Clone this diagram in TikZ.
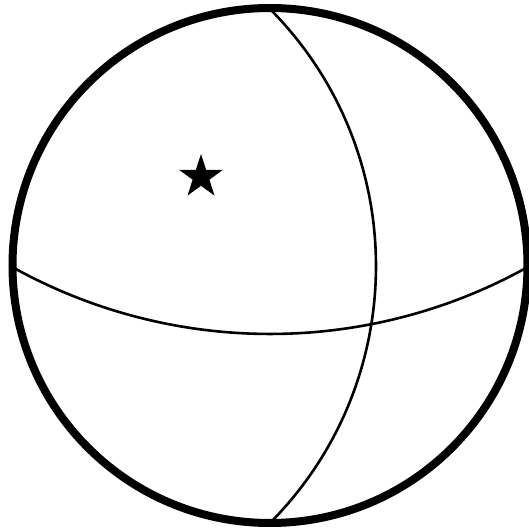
\documentclass[tikz,border=0pt]{standalone}
\begin{document}
\begin{tikzpicture}[x=0.5pt,y=0.5pt,
  rim/.style={line width=4pt},
  gc/.style={line width=1.3pt},
  starfill/.style={fill=black}]
\useasboundingbox (0,0) rectangle (529,532);
\coordinate (O) at (270,266.5);
\coordinate (S) at (201,355);
\coordinate (H) at (270,727.5);
\coordinate (V) at (11.4,266);
% horizontal great circle
\draw[gc] (H) ++(241.1:529.5) arc[start angle=241.1, end angle=298.8, radius=529.5];
% vertical great circle
\draw[gc] (V) ++(-44.4:364.6) arc[start angle=-44.4, end angle=44.4, radius=364.6];
% rim
\draw[rim] (O) circle[radius=257.5];
% star
\fill[starfill] (S) +(90:23) -- +(126:8.8) -- +(162:23) -- +(198:8.8) -- +(234:23)
  -- +(270:8.8) -- +(306:23) -- +(342:8.8) -- +(18:23) -- +(54:8.8) -- cycle;
\end{tikzpicture}
\end{document}
